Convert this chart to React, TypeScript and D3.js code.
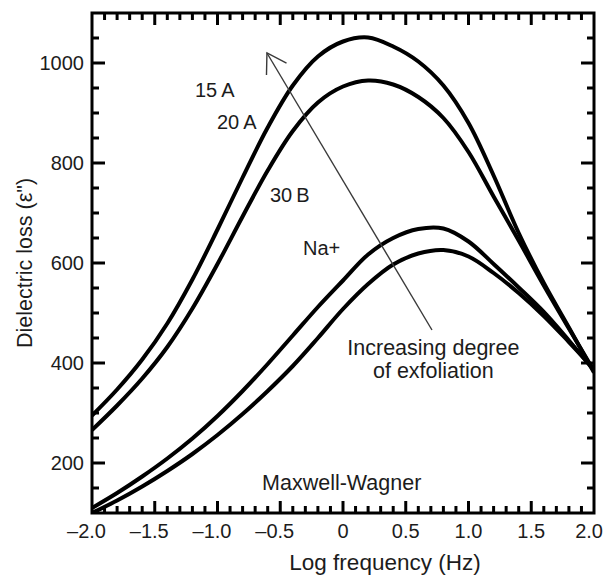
import React from "react";
import * as d3 from "d3";

const logFreq = [-2.0, -1.8, -1.6, -1.4, -1.2, -1.0, -0.8, -0.6, -0.4, -0.2, 0.0, 0.2, 0.4, 0.6, 0.8, 1.0, 1.2, 1.4, 1.6, 1.8, 2.0];
const loss15A = [295, 347, 407, 479, 567, 667, 771, 871, 955, 1013, 1043, 1051, 1033, 1003, 955, 880, 775, 660, 560, 471, 381];
const loss20A = [266, 315, 369, 432, 509, 598, 693, 785, 864, 921, 953, 965, 957, 932, 890, 822, 733, 645, 555, 469, 384];
const loss30B = [110, 140, 173, 209, 249, 294, 344, 398, 455, 512, 565, 617, 650, 668, 669, 643, 598, 551, 502, 445, 385];
const lossNa = [100, 125, 153, 184, 218, 256, 298, 344, 394, 450, 508, 558, 597, 619, 626, 613, 580, 540, 494, 442, 388];
const seriesValues = [loss15A, loss20A, loss30B, lossNa];

const xTickValues = [-2, -1.5, -1, -0.5, 0, 0.5, 1, 1.5, 2];
const xTickLabels = ["\u20132.0", "\u20131.5", "\u20131.0", "\u20130.5", "0", "0.5", "1.0", "1.5", "2.0"];
const yTickValues = [200, 400, 600, 800, 1000];
const yTickLabels = ["200", "400", "600", "800", "1000"];

const curveLabels = ["15\u2009A", "20\u2009A", "30\u2009B", "Na+"];
const curveLabelPos: [number, number][] = [[-1.18, 932], [-1.004, 868], [-0.582, 722], [-0.319, 616]];
const arrowFrom: [number, number] = [0.709, 466];
const arrowTo: [number, number] = [-0.606, 1020];

const FONT = "'Liberation Sans', Arial, Helvetica, sans-serif";
const INK = "#1c1c1c";

export default function App() {
  const W = 605, H = 575;
  const left = 92, right = 594, top = 13, bottom = 513;
  const x = d3.scaleLinear().domain([-2, 2]).range([left, right]);
  const y = d3.scaleLinear().domain([100, 1100]).range([bottom, top]);

  const line = d3.line<number>()
    .x((_, i) => x(logFreq[i]))
    .y((d) => y(d))
    .curve(d3.curveCatmullRom.alpha(0.5));

  const xMinor = d3.range(-19, 20).map((k) => k / 10);
  const yMinor = d3.range(150, 1100, 50);

  // arrow geometry
  const ax1 = x(arrowFrom[0]), ay1 = y(arrowFrom[1]);
  const ax2 = x(arrowTo[0]), ay2 = y(arrowTo[1]);
  const ang = Math.atan2(ay1 - ay2, ax1 - ax2);
  const headLen = 22, spread = (32 * Math.PI) / 180;
  const w1 = [ax2 + headLen * Math.cos(ang - spread), ay2 + headLen * Math.sin(ang - spread)];
  const w2 = [ax2 + headLen * Math.cos(ang + spread), ay2 + headLen * Math.sin(ang + spread)];

  return (
    <svg width={W} height={H} style={{ position: "absolute", left: 0, top: 0, background: "#fff" }} fontFamily={FONT}>
      <defs>
        <clipPath id="plotClip">
          <rect x={left} y={top} width={right - left} height={bottom - top} />
        </clipPath>
      </defs>
      <rect x={0} y={0} width={W} height={H} fill="#fff" />

      {/* curves */}
      <g clipPath="url(#plotClip)">
        {seriesValues.map((vals, i) => (
          <path key={i} d={line(vals) || ""} fill="none" stroke="#000" strokeWidth={4} strokeLinejoin="round" />
        ))}
      </g>

      {/* arrow */}
      <g stroke="#3a3a3a" strokeWidth={1.4} fill="none">
        <line x1={ax1} y1={ay1} x2={ax2} y2={ay2} />
        <polyline points={`${w1[0]},${w1[1]} ${ax2},${ay2} ${w2[0]},${w2[1]}`} />
      </g>

      {/* ticks */}
      <g stroke="#000" strokeWidth={3}>
        {xMinor.map((v) => {
          const major = Math.abs(v * 2 - Math.round(v * 2)) < 1e-6;
          const len = major ? 12 : 7;
          return (
            <g key={"xt" + v}>
              <line x1={x(v)} x2={x(v)} y1={bottom} y2={bottom - len} />
              <line x1={x(v)} x2={x(v)} y1={top} y2={top + len} />
            </g>
          );
        })}
        {yMinor.map((v) => {
          const major = v % 200 === 0;
          const len = major ? 13 : 7;
          return (
            <g key={"yt" + v}>
              <line x1={left} x2={left + len} y1={y(v)} y2={y(v)} />
              <line x1={right} x2={right - len} y1={y(v)} y2={y(v)} />
            </g>
          );
        })}
      </g>

      {/* frame */}
      <rect x={left} y={top} width={right - left} height={bottom - top} fill="none" stroke="#000" strokeWidth={3} />

      {/* tick labels */}
      <g fill={INK} fontSize={20}>
        {xTickValues.map((v, i) => {
          const last = i === xTickValues.length - 1;
          return (
            <text key={"xl" + i} x={last ? W - 2 : x(v)} y={538}
              textAnchor={last ? "end" : "middle"} dx={v < 0 ? -5.5 : 0}>
              {xTickLabels[i]}
            </text>
          );
        })}
        {yTickValues.map((v, i) => (
          <text key={"yl" + i} x={84} y={y(v)} dy="0.36em" textAnchor="end">
            {yTickLabels[i]}
          </text>
        ))}
      </g>

      {/* axis titles */}
      <text x={385} y={570} textAnchor="middle" fontSize={22.5} fill={INK}>Log frequency (Hz)</text>
      <text transform={`translate(32,263) rotate(-90)`} textAnchor="middle" fontSize={21.5} fill={INK}>
        Dielectric loss (ε")
      </text>

      {/* curve labels */}
      <g fill={INK} fontSize={20}>
        {curveLabels.map((t, i) => (
          <text key={"cl" + i} x={x(curveLabelPos[i][0])} y={y(curveLabelPos[i][1])}>{t}</text>
        ))}
      </g>

      {/* annotations */}
      <g fill={INK} fontSize={21.5}>
        <text x={x(-0.645)} y={y(146)}>Maxwell-Wagner</text>
        <text x={x(0.72)} y={y(416)} textAnchor="middle">Increasing degree</text>
        <text x={x(0.72)} y={y(370)} textAnchor="middle">of exfoliation</text>
      </g>
    </svg>
  );
}
